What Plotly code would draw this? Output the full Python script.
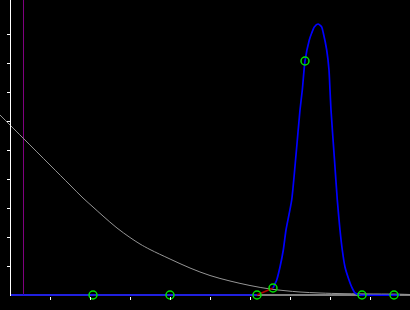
import plotly.graph_objects as go

# Decaying (gray) curve
gray_x = [-10, 0, 13, 40, 60, 73, 83, 93, 107, 120, 130, 140, 160, 180, 200, 220, 240, 260, 275, 290, 310, 335, 390, 400]
gray_y = [180, 170, 157, 130, 110, 97, 88, 79, 67, 57.5, 51, 45.5, 36, 27, 19.5, 14, 9.5, 6, 4.3, 3, 2, 1.3, 0.8, 0.5]

# Blue series: flat part and peak
blue_flat_x = [0, 247]
blue_flat_y = [0, 0]
blue_peak_x = [263, 266.7, 270, 273.3, 276, 281.7, 286, 290, 292.3, 295, 299.3, 301.7, 304.3, 308,
               311.7, 313.3, 316.7, 319, 320, 321, 324.5, 327.3, 330, 332.3, 335, 339, 341.7, 345, 350, 390]
blue_peak_y = [7, 15, 28, 45, 65, 95, 140, 185, 205, 234, 255, 262, 268, 271,
               268, 262, 245, 225, 205, 185, 135, 95, 65, 45, 28, 15, 8, 2, 0, 0]

# Red connecting segment
red_x = [247, 263]
red_y = [0, 7]

# Green open-circle markers
pts_x = [83, 160, 247, 263, 295, 352, 384]
pts_y = [0, 0, 0, 7, 234, 0, 0]

# Purple vertical marker position
purple_x = 13.5

xticks = [40, 80, 120, 160, 200, 240, 280, 320, 360]
yticks = [29, 58, 87, 116, 145, 174, 203, 232, 261]

fig = go.Figure()
fig.add_trace(go.Scatter(x=[purple_x, purple_x], y=[0, 295], mode="lines",
                         line=dict(color="#800080", width=1), hoverinfo="skip"))
fig.add_trace(go.Scatter(x=gray_x, y=gray_y, mode="lines", line_shape="spline",
                         line=dict(color="#959595", width=1)))
fig.add_trace(go.Scatter(x=blue_flat_x, y=blue_flat_y, mode="lines",
                         line=dict(color="#0000ff", width=1.7)))
fig.add_trace(go.Scatter(x=red_x, y=red_y, mode="lines",
                         line=dict(color="#b00000", width=1.7)))
fig.add_trace(go.Scatter(x=blue_peak_x, y=blue_peak_y, mode="lines", line_shape="spline",
                         line=dict(color="#0000ff", width=1.7, smoothing=0.6)))
fig.add_trace(go.Scatter(x=pts_x, y=pts_y, mode="markers", cliponaxis=False,
                         marker=dict(symbol="circle-open", size=8, color="#00e000",
                                     line=dict(color="#00e000", width=1.5))))

fig.add_shape(type="line", xref="x", yref="y", x0=0, x1=400, y0=0, y1=0,
              line=dict(color="white", width=1), layer="below")

fig.update_layout(
    width=410, height=310,
    margin=dict(l=0, r=0, t=0, b=14),
    paper_bgcolor="black", plot_bgcolor="black",
    showlegend=False,
    xaxis=dict(range=[-10, 400], showgrid=False, zeroline=False, showline=False,
               tickvals=xticks, ticks="outside", ticklen=3, tickwidth=1, tickcolor="white",
               showticklabels=False),
    yaxis=dict(range=[-1, 295], showgrid=False, zeroline=False, showline=True,
               linecolor="white", linewidth=1, anchor="free", position=10 / 410,
               tickvals=yticks, ticks="outside", ticklen=3, tickwidth=1, tickcolor="white",
               showticklabels=False),
)

fig.write_html("out.html")
